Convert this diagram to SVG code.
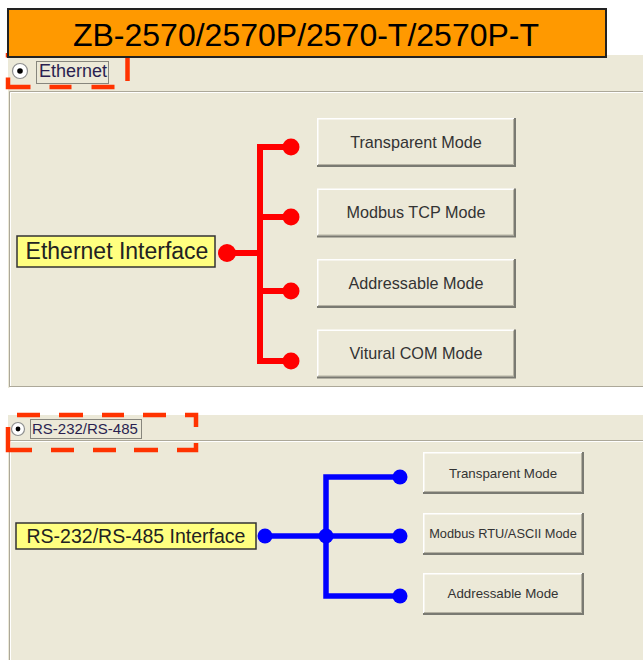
<svg xmlns="http://www.w3.org/2000/svg" width="643" height="660" viewBox="0 0 643 660">
<style>
text{font-family:"Liberation Sans",Arial,sans-serif}
.panel{fill:#ECE9D8}
.etch{stroke:#ACA899;stroke-width:1;fill:none}
.etchw{stroke:#FFFFFF;stroke-width:1;fill:none}
.hilite{fill:none;stroke:#FFFFFF;stroke-width:1.5}
.btn{fill:#ECE9D8}
.shadow{fill:none;stroke:#7A7A72;stroke-width:2}
.shadow2{fill:none;stroke:#B5B2A3;stroke-width:1}
.bt1{font-size:16.2px;fill:#333;text-anchor:middle}
.bt2{font-size:13.3px;fill:#333;text-anchor:middle}
.dash{fill:none;stroke:#FF3300;stroke-width:4.5}
.focus{fill:none;stroke:#222;stroke-width:1;stroke-dasharray:1 1}
.radio{fill:#FFFFFF;stroke:#8E8F8F;stroke-width:1.2}
.label{fill:#FFFF80;stroke:#333;stroke-width:1.5}
.red{stroke:#FF0000;stroke-width:6;fill:none}
.blue{stroke:#0000FF;stroke-width:5.5;fill:none}
</style>
<rect width="643" height="660" fill="#FFFFFF"/>
<!-- upper panel -->
<rect class="panel" x="8" y="55" width="635" height="333"/>
<path class="etch" d="M9.5,387 V91.5 H643"/>
<path class="etchw" d="M10.5,386 V92.5 H643"/>
<path class="etch" d="M9.5,386.5 H643"/>
<path class="etchw" d="M9.5,387.5 H643"/>
<!-- lower panel -->
<rect class="panel" x="8" y="415" width="635" height="245"/>
<path class="etch" d="M9.5,660 V440.5 H643"/>
<path class="etchw" d="M10.5,660 V441.5 H643"/>

<!-- highlight dashed box (upper), partly under the title -->
<path class="dash" d="M127.5,58 V87 H8 V53" stroke-dasharray="23 19 23 20 22 19 32 20 10"/>

<g id="title">
<rect x="8" y="9" width="598" height="48" fill="#FF9900" stroke="#222" stroke-width="2"/>
<text x="306" y="46" font-size="32" text-anchor="middle" fill="#000">ZB-2570/2570P/2570-T/2570P-T</text>
</g>

<g id="radio-ethernet">
<circle class="radio" cx="20" cy="71" r="7.5"/>
<circle cx="20" cy="71" r="2.8" fill="#000"/>
<rect class="focus" x="36.5" y="61.5" width="72" height="22"/>
<text x="39" y="77" font-size="18" fill="#2A1F50">Ethernet</text>
</g>

<g id="radio-serial">
<path class="dash" d="M17,415 H196 V450 H8 V415 H17" stroke-dasharray="23 19 24 19 22 19 23 19 23 16 26 19 24 18 23 19 23 19 47 21"/>
<circle class="radio" cx="18" cy="429" r="6.5"/>
<circle cx="18" cy="429" r="2.4" fill="#000"/>
<rect class="focus" x="30.5" y="419.5" width="111" height="19"/>
<text x="32" y="434" font-size="15" fill="#2A1F50">RS-232/RS-485</text>
</g>

<g id="connectors">
<path class="red" d="M227,253 H260"/>
<path class="red" d="M291,147 H260 V361 H291"/>
<path class="red" d="M260,217 H291"/>
<path class="red" d="M260,291 H291"/>
<g fill="#FF0000">
<circle cx="227" cy="253" r="9"/>
<circle cx="291" cy="147" r="8.5"/>
<circle cx="291" cy="217" r="8.5"/>
<circle cx="291" cy="291" r="8.5"/>
<circle cx="291" cy="361" r="8.5"/>
</g>
<path class="blue" d="M265,536 H400"/>
<path class="blue" d="M400,477 H326 V596 H400"/>
<g fill="#0000FF">
<circle cx="265" cy="536" r="7.5"/>
<circle cx="326" cy="536" r="7.5"/>
<circle cx="400" cy="477" r="7.5"/>
<circle cx="400" cy="536" r="7.5"/>
<circle cx="400" cy="596" r="7.5"/>
</g>
</g>

<g id="ethernet-interface">
<rect class="label" x="17" y="236" width="198" height="31"/>
<text x="117" y="259" font-size="23" text-anchor="middle" fill="#222">Ethernet Interface</text>
</g>

<g id="serial-interface">
<rect class="label" x="16" y="523" width="240" height="26"/>
<text x="136" y="543" font-size="19.5" text-anchor="middle" fill="#222">RS-232/RS-485 Interface</text>
</g>

<g id="eth-transparent">
<rect class="btn" x="317" y="118" width="198" height="48"/>
<path class="hilite" d="M317.75,165 V118.75 H514"/>
<path class="shadow2" d="M513.5,119 V164.5 H318"/>
<path class="shadow" d="M515,118 V166 H317"/>
<text class="bt1" x="416" y="147.5">Transparent Mode</text>
</g>
<g id="eth-modbus-tcp">
<rect class="btn" x="317" y="188.5" width="198" height="48"/>
<path class="hilite" d="M317.75,235.5 V189.25 H514"/>
<path class="shadow2" d="M513.5,189.5 V235 H318"/>
<path class="shadow" d="M515,188.5 V236.5 H317"/>
<text class="bt1" x="416" y="218">Modbus TCP Mode</text>
</g>
<g id="eth-addressable">
<rect class="btn" x="317" y="259" width="198" height="48"/>
<path class="hilite" d="M317.75,306 V259.75 H514"/>
<path class="shadow2" d="M513.5,260 V305.5 H318"/>
<path class="shadow" d="M515,259 V307 H317"/>
<text class="bt1" x="416" y="288.5">Addressable Mode</text>
</g>
<g id="eth-virtual-com">
<rect class="btn" x="317" y="329.5" width="198" height="48"/>
<path class="hilite" d="M317.75,376.5 V330.25 H514"/>
<path class="shadow2" d="M513.5,330.5 V376 H318"/>
<path class="shadow" d="M515,329.5 V377.5 H317"/>
<text class="bt1" x="416" y="359">Vitural COM Mode</text>
</g>

<g id="ser-transparent">
<rect class="btn" x="423" y="452" width="160" height="41"/>
<path class="hilite" d="M423.75,492 V452.75 H582"/>
<path class="shadow2" d="M581.5,453 V491.5 H424"/>
<path class="shadow" d="M583,452 V493 H423"/>
<text class="bt2" x="503" y="477.5">Transparent Mode</text>
</g>
<g id="ser-modbus-rtu">
<rect class="btn" x="423" y="513" width="160" height="41"/>
<path class="hilite" d="M423.75,553 V513.75 H582"/>
<path class="shadow2" d="M581.5,514 V552.5 H424"/>
<path class="shadow" d="M583,513 V554 H423"/>
<text class="bt2" x="503" y="538.2" style="font-size:12.8px">Modbus RTU/ASCII Mode</text>
</g>
<g id="ser-addressable">
<rect class="btn" x="423" y="573" width="160" height="41"/>
<path class="hilite" d="M423.75,613 V573.75 H582"/>
<path class="shadow2" d="M581.5,574 V612.5 H424"/>
<path class="shadow" d="M583,573 V614 H423"/>
<text class="bt2" x="503" y="598.2">Addressable Mode</text>
</g>
</svg>
